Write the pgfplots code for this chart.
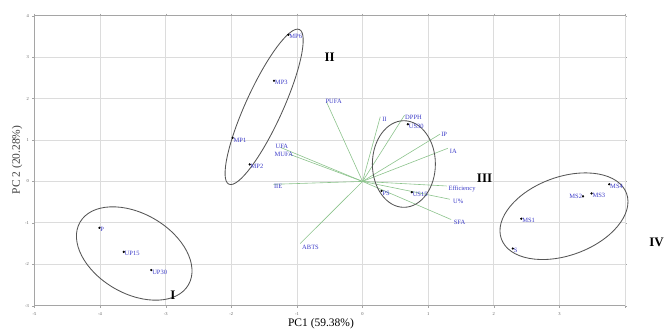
\documentclass[border=0pt]{standalone}
\usepackage{pgfplots}
\pgfplotsset{compat=1.18}
\usepackage{fontspec}
\setmainfont{Liberation Serif}
\definecolor{lblue}{RGB}{60,60,200}
\definecolor{vgreen}{RGB}{140,195,140}
\definecolor{gridc}{RGB}{220,220,220}
\definecolor{framec}{RGB}{165,165,165}
\definecolor{ellc}{RGB}{85,85,85}
\begin{document}
\begin{tikzpicture}
\begin{axis}[
  scale only axis, width=590.5pt, height=290pt,
  xmin=-5, xmax=4, ymin=-3, ymax=4,
  xtick={-5,-4,-3,-2,-1,0,1,2,3}, ytick={-3,-2,-1,0,1,2,3,4},
  extra x ticks={4}, extra x tick labels={},
  grid=major, major grid style={gridc, line width=0.8pt},
  axis line style={framec, line width=0.8pt},
  tick style={framec}, tick align=outside, major tick length=2pt,
  ticklabel style={font=\fontsize{4.5}{5}\selectfont, text=black!65},
  xticklabel style={yshift=-1pt},
  /pgf/number format/assume math mode=true,
  clip=false,
]
% loading vectors
\addplot[vgreen, line width=0.6pt] coordinates {(0,0) (-0.55,1.92)};
\addplot[vgreen, line width=0.6pt] coordinates {(0,0) (0.27,1.56)};
\addplot[vgreen, line width=0.6pt] coordinates {(0,0) (0.64,1.60)};
\addplot[vgreen, line width=0.6pt] coordinates {(0,0) (1.18,1.14)};
\addplot[vgreen, line width=0.6pt] coordinates {(0,0) (1.30,0.80)};
\addplot[vgreen, line width=0.6pt] coordinates {(0,0) (-1.25,0.82)};
\addplot[vgreen, line width=0.6pt] coordinates {(0,0) (-1.12,0.66)};
\addplot[vgreen, line width=0.6pt] coordinates {(0,0) (-1.36,-0.07)};
\addplot[vgreen, line width=0.6pt] coordinates {(0,0) (-0.95,-1.50)};
\addplot[vgreen, line width=0.6pt] coordinates {(0,0) (1.28,-0.11)};
\addplot[vgreen, line width=0.6pt] coordinates {(0,0) (1.33,-0.43)};
\addplot[vgreen, line width=0.6pt] coordinates {(0,0) (1.35,-0.92)};
% vector labels
\begin{scope}[every node/.style={font=\fontsize{6.5}{7}\selectfont, text=lblue, inner sep=0.5pt, anchor=west}]
\node at (axis cs:-0.574,1.92) {PUFA};
\node at (axis cs:0.29,1.50) {II};
\node at (axis cs:0.64,1.55) {DPPH};
\node at (axis cs:1.19,1.14) {IP};
\node at (axis cs:1.32,0.73) {IA};
\node at (axis cs:-1.335,0.84) {UFA};
\node at (axis cs:-1.35,0.66) {MUFA};
\node at (axis cs:-1.36,-0.13) {IIE};
\node at (axis cs:-0.93,-1.59) {ABTS};
\node at (axis cs:1.30,-0.19) {Efficiency};
\node at (axis cs:1.37,-0.49) {U\%};
\node at (axis cs:1.38,-0.98) {SFA};
\end{scope}
% samples
\addplot[only marks, mark=*, mark size=0.9pt, black,
  nodes near coords, point meta=explicit symbolic,
  nodes near coords style={anchor=west, font=\fontsize{6.5}{7}\selectfont, text=lblue, inner sep=0.5pt, xshift=0.3pt, yshift=-2pt}]
  table[meta=label] {
x y label
-1.13 3.54 MP6
-1.35 2.43 MP3
-1.98 1.05 MP1
-1.72 0.41 MP2
-4.01 -1.12 P
-3.64 -1.70 UP15
-3.22 -2.14 UP30
0.69 1.38 US30
0.29 -0.23 PS
0.75 -0.26 US15
2.42 -0.90 MS1
2.29 -1.62 S
3.49 -0.29 MS3
3.76 -0.07 MS4
};
\addplot[only marks, mark=*, mark size=0.9pt, black,
  nodes near coords, point meta=explicit symbolic,
  nodes near coords style={anchor=east, font=\fontsize{6.5}{7}\selectfont, text=lblue, inner sep=0.5pt, xshift=-0.3pt, yshift=-0.5pt}]
  table[meta=label] {
x y label
3.36 -0.36 MS2
};
% group ellipses
\draw[ellc, line width=0.85pt, rotate around={-30:(axis cs:-3.48,-1.74)}] (axis cs:-3.48,-1.74) ellipse [x radius=62.6pt, y radius=40pt];
\draw[ellc, line width=0.85pt, rotate around={65.5:(axis cs:-1.50,1.80)}] (axis cs:-1.50,1.80) ellipse [x radius=85pt, y radius=18.5pt];
\draw[ellc, line width=0.85pt] (axis cs:0.63,0.42) ellipse [x radius=31.5pt, y radius=43.3pt];
\draw[ellc, line width=0.85pt, rotate around={20:(axis cs:3.07,-0.84)}] (axis cs:3.07,-0.84) ellipse [x radius=66.6pt, y radius=39.2pt];
% group numerals
\begin{scope}[every node/.style={font=\fontsize{13}{14}\selectfont\bfseries, inner sep=0pt}]
\node at (axis cs:-0.50,3.0) {II};
\node at (axis cs:1.86,0.07) {III};
\node at (axis cs:-2.89,-2.74) {I};
\node at (axis cs:4.48,-1.46) {IV};
\end{scope}
\end{axis}
\node[font=\fontsize{11.5}{12}\selectfont] at (286.5pt,-18.3pt) {PC1 (59.38\%)};
\node[font=\fontsize{11.5}{12}\selectfont, text=black!75, rotate=90] at (-17.5pt,145.7pt) {PC 2 (20.28\%)};
\pgfresetboundingbox
\path (-34.5pt,-23.3pt) rectangle (632.5pt,305.7pt);
\end{tikzpicture}
\end{document}
